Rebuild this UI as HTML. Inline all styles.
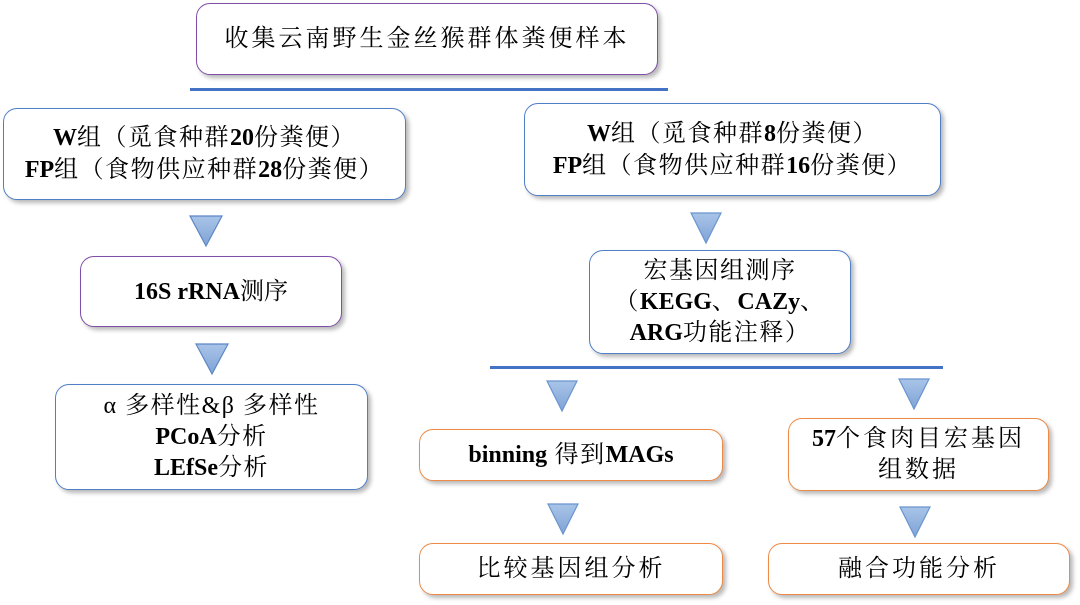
<!DOCTYPE html>
<html><head><meta charset="utf-8"><style>
html,body{margin:0;padding:0;background:#fff;}
body{width:1080px;height:605px;position:relative;overflow:hidden;font-family:"Liberation Serif","Noto Serif CJK SC","Noto Serif CJK JP","Noto Serif CJK TC",serif;color:#000;}
.b{position:absolute;box-sizing:border-box;background:#fff;border-radius:14px;border:1.5px solid #4f7fc6;box-shadow:3px 3px 4px rgba(0,0,0,0.28);display:flex;flex-direction:column;align-items:center;justify-content:center;text-align:center;font-size:24px;line-height:32px;letter-spacing:1.5px;white-space:nowrap;}
.p{border-color:#7f4fa8;}
.o{border-color:#ee8a45;}
.bd{font-weight:bold;letter-spacing:0;}
.ln{position:absolute;height:3px;background:#4472c4;}
svg.t{position:absolute;width:34px;height:32px;overflow:visible;}
</style></head><body>
<svg width="0" height="0" style="position:absolute"><defs><linearGradient id="g" x1="0" y1="0" x2="0" y2="1"><stop offset="0" stop-color="#a9c4e8"/><stop offset="1" stop-color="#7fa3d6"/></linearGradient></defs></svg>

<div class="b p" style="left:196px;top:3px;width:462px;height:72px;letter-spacing:3px;">收集云南野生金丝猴群体粪便样本</div>
<div class="ln" style="left:190px;top:88px;width:478px;"></div>

<div class="b" style="left:3px;top:108px;width:403px;height:92px;"><div><span class="bd">W</span>组（觅食种群<span class="bd">20</span>份粪便）</div><div><span class="bd">FP</span>组（食物供应种群<span class="bd">28</span>份粪便）</div></div>
<div class="b" style="left:524px;top:103px;width:417px;height:93px;"><div><span class="bd">W</span>组（觅食种群<span class="bd">8</span>份粪便）</div><div><span class="bd">FP</span>组（食物供应种群<span class="bd">16</span>份粪便）</div></div>

<svg class="t" style="left:189px;top:215px"><polygon points="1,1 33,1 17,31" fill="url(#g)" stroke="#5b86c5" stroke-width="1.2"/></svg>
<svg class="t" style="left:690px;top:212px"><polygon points="1,1 31,1 16,31" fill="url(#g)" stroke="#6a95cf" stroke-width="1.2"/></svg>

<div class="b p" style="left:80px;top:256px;width:262px;height:71px;"><span class="bd">16S rRNA<span style="font-weight:normal">测序</span></span></div>
<svg class="t" style="left:195px;top:343px"><polygon points="1,1 33,1 17,31" fill="url(#g)" stroke="#5b86c5" stroke-width="1.2"/></svg>
<div class="b" style="left:55px;top:384px;width:313px;height:106px;line-height:31px;"><div>α 多样性&amp;β 多样性</div><div><span class="bd">PCoA</span>分析</div><div><span class="bd">LEfSe</span>分析</div></div>

<div class="b" style="left:589px;top:250px;width:262px;height:104px;line-height:31px;"><div>宏基因组测序</div><div>（<span class="bd">KEGG</span>、<span class="bd">CAZy</span>、</div><div><span class="bd">ARG</span>功能注释）</div></div>
<div class="ln" style="left:490px;top:366px;width:453px;"></div>

<svg class="t" style="left:546px;top:380px"><polygon points="1,1 31,1 16,31" fill="url(#g)" stroke="#6a95cf" stroke-width="1.2"/></svg>
<svg class="t" style="left:898px;top:378px"><polygon points="1,1 31,1 16,31" fill="url(#g)" stroke="#6a95cf" stroke-width="1.2"/></svg>

<div class="b o" style="left:419px;top:429px;width:304px;height:52px;"><div><span class="bd">binning</span> 得到<span class="bd">MAGs</span></div></div>
<div class="b o" style="left:788px;top:418px;width:261px;height:73px;line-height:31px;letter-spacing:3px;"><div><span class="bd">57</span>个食肉目宏基因</div><div>组数据</div></div>

<svg class="t" style="left:547px;top:503px"><polygon points="1,1 31,1 16,31" fill="url(#g)" stroke="#6a95cf" stroke-width="1.2"/></svg>
<svg class="t" style="left:899px;top:506px"><polygon points="1,1 31,1 16,31" fill="url(#g)" stroke="#6a95cf" stroke-width="1.2"/></svg>

<div class="b o" style="left:419px;top:543px;width:304px;height:52px;letter-spacing:3px;">比较基因组分析</div>
<div class="b o" style="left:768px;top:543px;width:302px;height:52px;letter-spacing:3px;">融合功能分析</div>
</body></html>
